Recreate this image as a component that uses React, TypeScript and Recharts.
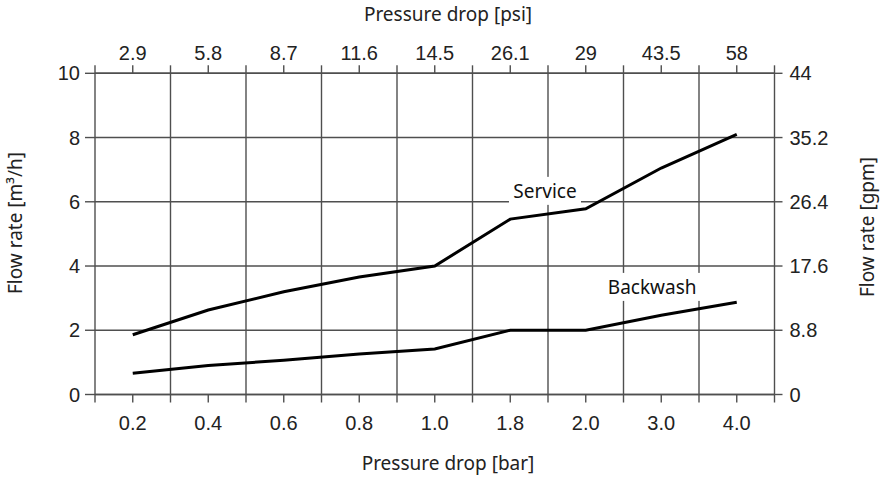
import React from "react";
import {
  LineChart,
  Line,
  XAxis,
  YAxis,
  CartesianGrid,
  ReferenceLine,
  ReferenceDot,
} from "recharts";

// bar categories (bottom) and their psi equivalents (top)
const barLabels = ["0.2", "0.4", "0.6", "0.8", "1.0", "1.8", "2.0", "3.0", "4.0"];
const psiLabels = ["2.9", "5.8", "8.7", "11.6", "14.5", "26.1", "29", "43.5", "58"];

// flow rate in m3/h
const service = [1.86, 2.63, 3.2, 3.66, 4.0, 5.46, 5.78, 7.05, 8.1];
const backwash = [0.66, 0.9, 1.07, 1.26, 1.42, 2.0, 2.0, 2.47, 2.87];

const m3hTicks = [0, 2, 4, 6, 8, 10];
const gpmTicks = [0, 8.8, 17.6, 26.4, 35.2, 44];
const M3H_TO_GPM = 4.4;

// each category occupies one unit cell, value sits in the middle
const cellTicks = Array.from({ length: barLabels.length * 2 + 1 }, (_, i) => i / 2);
const cellEdges = Array.from({ length: barLabels.length - 1 }, (_, i) => i + 1);

const data = barLabels.map((b, i) => ({
  x: i + 0.5,
  bar: b,
  service: service[i],
  backwash: backwash[i],
  serviceGpm: service[i] * M3H_TO_GPM,
}));

const GRID = "#4f4f4f";
const TICK_FONT = "'Liberation Sans', Arial, sans-serif";
const TITLE_FONT = "'Noto Sans', sans-serif";

function cellLabel(labels: string[]) {
  return (v: number) => {
    if (Number.isInteger(v)) return "";
    return labels[Math.floor(v)] ?? "";
  };
}

function boxedLabel(text: string, w: number) {
  return (p: any) => (
    <g>
      <rect x={p.cx - w / 2} y={p.cy - 14} width={w} height={28} fill="#fff" />
      <text
        x={p.cx}
        y={p.cy + 7}
        textAnchor="middle"
        fontSize={19}
        fontFamily={TITLE_FONT}
        fill="#111"
      >
        {text}
      </text>
    </g>
  );
}

const tickStyle = { fontSize: 20, fontFamily: TICK_FONT, fill: "#222" };
const axisLine = { stroke: GRID, strokeWidth: 1.4 };

export default function App() {
  return (
    <div style={{ position: "absolute", left: 0, top: 0, width: 885, height: 477, background: "#fff" }}>
      <LineChart
        width={885}
        height={477}
        data={data}
        margin={{ top: 33.3, right: 50.5, bottom: 42.5, left: 45 }}
      >
        <CartesianGrid
          vertical={false}
          stroke={GRID}
          strokeWidth={1.4}
          xAxisId="bar"
          yAxisId="m3h"
        />
        <XAxis
          xAxisId="bar"
          dataKey="x"
          type="number"
          domain={[0, 9]}
          ticks={cellTicks}
          interval={0}
          tickFormatter={cellLabel(barLabels)}
          tickSize={8}
          tickMargin={13}
          height={40}
          tick={tickStyle}
          axisLine={axisLine}
          tickLine={axisLine}
        />
        <XAxis
          xAxisId="psi"
          orientation="top"
          dataKey="x"
          type="number"
          domain={[0, 9]}
          ticks={cellTicks}
          interval={0}
          tickFormatter={cellLabel(psiLabels)}
          tickSize={8}
          tickMargin={5}
          height={40}
          tick={tickStyle}
          axisLine={axisLine}
          tickLine={axisLine}
        />
        <YAxis
          yAxisId="m3h"
          domain={[0, 10]}
          ticks={m3hTicks}
          interval={0}
          tickSize={10}
          tickMargin={5}
          width={50}
          tick={tickStyle}
          axisLine={axisLine}
          tickLine={axisLine}
        />
        <YAxis
          yAxisId="gpm"
          orientation="right"
          domain={[0, 44]}
          ticks={gpmTicks}
          interval={0}
          tickSize={8}
          tickMargin={7}
          width={60}
          tick={tickStyle}
          axisLine={axisLine}
          tickLine={axisLine}
        />
        {cellEdges.map((e) => (
          <ReferenceLine
            key={e}
            x={e}
            xAxisId="bar"
            yAxisId="m3h"
            stroke={GRID}
            strokeWidth={1.4}
          />
        ))}
        {/* invisible twin so the gpm axis has a series bound to it */}
        <Line
          xAxisId="psi"
          yAxisId="gpm"
          dataKey="serviceGpm"
          stroke="none"
          dot={false}
          activeDot={false}
          isAnimationActive={false}
        />
        <Line
          xAxisId="bar"
          yAxisId="m3h"
          dataKey="service"
          type="linear"
          stroke="#000"
          strokeWidth={3}
          dot={false}
          isAnimationActive={false}
        />
        <Line
          xAxisId="bar"
          yAxisId="m3h"
          dataKey="backwash"
          type="linear"
          stroke="#000"
          strokeWidth={3}
          dot={false}
          isAnimationActive={false}
        />
        <ReferenceDot
          xAxisId="bar"
          yAxisId="m3h"
          x={5.96}
          y={6.34}
          r={0}
          shape={boxedLabel("Service", 72)}
        />
        <ReferenceDot
          xAxisId="bar"
          yAxisId="m3h"
          x={7.38}
          y={3.35}
          r={0}
          shape={boxedLabel("Backwash", 104)}
        />
      </LineChart>
      <svg
        width={885}
        height={477}
        style={{ position: "absolute", left: 0, top: 0, pointerEvents: "none" }}
      >
        <g fontFamily={TITLE_FONT} fontSize={19} fill="#222">
          <text x={448} y={21} textAnchor="middle">Pressure drop [psi]</text>
          <text x={448} y={470} textAnchor="middle">Pressure drop [bar]</text>
          <text transform="translate(22,223) rotate(-90)" textAnchor="middle">
            Flow rate [m³/h]
          </text>
          <text transform="translate(874,227) rotate(-90)" textAnchor="middle">
            Flow rate [gpm]
          </text>
        </g>
      </svg>
    </div>
  );
}
